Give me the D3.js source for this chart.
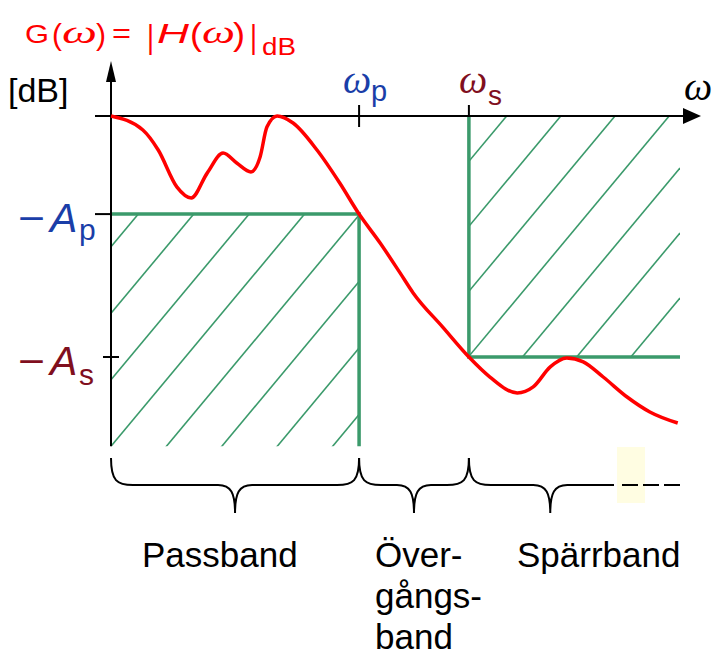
<!DOCTYPE html>
<html>
<head>
<meta charset="utf-8">
<script src="https://cdn.jsdelivr.net/npm/d3@7"></script>
<style>
  body { margin: 0; background: #fff; }
  svg { display: block; }
</style>
</head>
<body>
<script>
// chart size
var w = 712, h = 657;

// frequency response (omega, gain in dB)
var omega = [0, 0.56, 0.83, 1.16, 1.41, 1.69, 1.97, 2.21, 2.46, 2.62, 2.74, 2.92, 3.20, 3.62, 4.02,
             4.36, 4.73, 5.08, 5.31, 5.83, 6.29, 6.66, 7.14, 7.42, 7.72, 8.01, 8.30, 8.65, 9.07, 9.47, 9.96];
var gain = [0, -0.58, -1.41, -2.95, -3.40, -2.37, -1.54, -1.95, -2.32, -1.70, -0.46, 0, -0.29, -1.41, -2.78,
            -4.07, -5.27, -6.51, -7.34, -8.76, -10, -10.83, -11.49, -11.24, -10.41, -10.04, -10.2, -10.83, -11.66, -12.28, -12.74];

// filter specification
var wp = 4.36, ws = 6.29, wEnd = 10;
var Ap = 4.07, As = 10;
var dbBottom = -13.7;

// bands under the axis
var bands = ["Passband", "Över-\ngångs-\nband", "Spärrband"];
var bandEdges = [0, wp, ws, 7.72];

var red = "#ff0000", blue = "#1a3ea8", darkred = "#800f1e", green = "#3b9a6b";
var sans = "'Liberation Sans', Arial, sans-serif", serif = "'Liberation Serif', 'Times New Roman', serif";

var svg = d3.select("body").append("svg")
    .attr("width", w)
    .attr("height", h);

var x = d3.scaleLinear().domain([0, wEnd]).range([111, 680]);
var y = d3.scaleLinear().domain([0, -As]).range([116, 357]);

// hatching: lines along (1,-1.2), c = 1.2*px + py
function hatch(id, x0, x1, y0, y1, c0, step){
    svg.append("clipPath").attr("id", id)
        .append("rect").attr("x", x0).attr("y", y0).attr("width", x1 - x0).attr("height", y1 - y0);
    var cmin = 1.2 * x0 + y0, cmax = 1.2 * x1 + y1;
    var k0 = Math.ceil((cmin - c0) / step), k1 = Math.floor((cmax - c0) / step);
    var cs = d3.range(k0, k1 + 1).map(function(k){ return c0 + k * step; });
    svg.append("g").attr("clip-path", "url(#" + id + ")")
        .selectAll("line").data(cs).enter().append("line")
        .attr("x1", x0).attr("y1", function(c){ return c - 1.2 * x0; })
        .attr("x2", x1).attr("y2", function(c){ return c - 1.2 * x1; })
        .attr("stroke", green).attr("stroke-width", 1.6);
}
hatch("passclip", x(0), x(wp), y(-Ap), y(dbBottom), 380, 66.5);
hatch("stopclip", x(ws), x(wEnd), y(0), y(-As), 724, 65);

// green limit lines
var lim = svg.append("g").attr("stroke", green).attr("stroke-width", 3.5).attr("fill", "none");
lim.append("path").attr("d", "M" + x(0) + "," + y(-Ap) + "H" + x(wp) + "V" + y(dbBottom));
lim.append("path").attr("d", "M" + x(ws) + "," + y(0) + "V" + y(-As) + "H" + x(wEnd));

// axes
var ax = svg.append("g").attr("stroke", "#000").attr("stroke-width", 2);
ax.append("line").attr("x1", 95).attr("x2", 688).attr("y1", y(0)).attr("y2", y(0));
ax.append("line").attr("x1", x(0)).attr("x2", x(0)).attr("y1", 76).attr("y2", y(dbBottom));
svg.append("path").attr("d", "M683," + (y(0) - 8) + "L701," + y(0) + "L683," + (y(0) + 8) + "Z");
svg.append("path").attr("d", "M" + (x(0) - 5) + ",82L" + x(0) + ",61L" + (x(0) + 5) + ",82Z");
// ticks
ax.append("line").attr("x1", x(wp)).attr("x2", x(wp)).attr("y1", 105).attr("y2", 127);
ax.append("line").attr("x1", x(ws)).attr("x2", x(ws)).attr("y1", 105).attr("y2", y(0));
ax.append("line").attr("x1", 95).attr("x2", x(0)).attr("y1", y(-Ap)).attr("y2", y(-Ap));
ax.append("line").attr("x1", 103).attr("x2", 119).attr("y1", y(-As)).attr("y2", y(-As));

// response curve
var line = d3.line()
    .x(function(d){ return x(d[0]); })
    .y(function(d){ return y(d[1]); })
    .curve(d3.curveMonotoneX);
svg.append("path")
    .datum(d3.zip(omega, gain))
    .attr("d", line)
    .attr("fill", "none")
    .attr("stroke", red)
    .attr("stroke-width", 3.5)
    .attr("stroke-linejoin", "round");

// text helper
function label(px, py, t, o){
    o = o || {};
    var el = svg.append("text")
        .attr("x", px).attr("y", py)
        .attr("font-family", o.family || sans)
        .attr("font-size", o.size || 34)
        .attr("font-style", o.style || "normal")
        .attr("fill", o.fill || "#000")
        .text(t);
    if (o.len) el.attr("textLength", o.len).attr("lengthAdjust", "spacingAndGlyphs");
    return el;
}

// title G(w) = |H(w)|dB
label(25, 43, "G", {size: 26, fill: red, len: 24});
label(52, 45, "(", {size: 30, fill: red, len: 10});
label(62, 43, "ω", {size: 31, fill: red, family: serif, style: "italic", len: 35});
label(96, 45, ")", {size: 30, fill: red, len: 10});
label(112, 43, "=", {size: 27, fill: red, len: 19});
label(147, 48, "|", {size: 34, fill: red, len: 7});
label(157, 43, "H", {size: 28, fill: red, style: "italic", len: 32});
label(190, 45, "(", {size: 31, fill: red, len: 12});
label(202, 43, "ω", {size: 31, fill: red, family: serif, style: "italic", len: 33});
label(233, 45, ")", {size: 31, fill: red, len: 12});
label(250, 48, "|", {size: 34, fill: red, len: 7});
label(262, 55, "dB", {size: 23, fill: red, len: 34});

label(8, 102, "[dB]", {size: 34});

// axis symbols
label(x(wp) - 16, 93, "ω", {size: 40, fill: blue, family: serif, style: "italic"});
label(x(wp) + 12, 101, "p", {size: 29, fill: blue});
label(x(ws) - 10, 93, "ω", {size: 40, fill: darkred, family: serif, style: "italic"});
label(x(ws) + 19, 105, "s", {size: 28, fill: darkred});
label(684, 100, "ω", {size: 40, family: serif, style: "italic"});

label(18, y(-Ap) + 18, "−", {size: 40, fill: blue, len: 27});
label(50, y(-Ap) + 18, "A", {size: 41, fill: blue, style: "italic"});
label(79, y(-Ap) + 26, "p", {size: 30, fill: blue});
label(18, y(-As) + 18, "−", {size: 40, fill: darkred, len: 27});
label(50, y(-As) + 18, "A", {size: 41, fill: darkred, style: "italic"});
label(79, y(-As) + 28, "s", {size: 30, fill: darkred});

// braces under the axis
var bTop = 458, bMid = 485, bTip = 513;
svg.append("rect").attr("x", 617).attr("y", 447).attr("width", 28).attr("height", 56).attr("fill", "#fffde2");
function brace(a, b, openRight){
    var m = (a + b) / 2;
    var d = "M" + a + "," + bTop + "C" + a + "," + (bMid - 4) + " " + (a + 6) + "," + bMid + " " + (a + 22) + "," + bMid +
        "H" + (m - 17) + "C" + (m - 4) + "," + bMid + " " + m + "," + (bMid + 8) + " " + m + "," + bTip +
        "C" + m + "," + (bMid + 8) + " " + (m + 4) + "," + bMid + " " + (m + 17) + "," + bMid;
    if (openRight) d += "H" + openRight;
    else d += "H" + (b - 22) + "C" + (b - 6) + "," + bMid + " " + b + "," + (bMid - 4) + " " + b + "," + bTop;
    svg.append("path").attr("d", d).attr("fill", "none").attr("stroke", "#000").attr("stroke-width", 2);
}
brace(x(bandEdges[0]), x(bandEdges[1]));
brace(x(bandEdges[1]), x(bandEdges[2]));
brace(x(bandEdges[2]), 2 * x(bandEdges[3]) - x(bandEdges[2]), 614);
svg.append("line").attr("x1", 622).attr("x2", 680).attr("y1", bMid).attr("y2", bMid)
    .attr("stroke", "#000").attr("stroke-width", 2).attr("stroke-dasharray", "16,5");

// band names
var bandX = [142, 375, 517];
bands.forEach(function(b, i){
    b.split("\n").forEach(function(t, j){
        label(bandX[i], 567 + j * 41, t, {size: 35});
    });
});
</script>
</body>
</html>
